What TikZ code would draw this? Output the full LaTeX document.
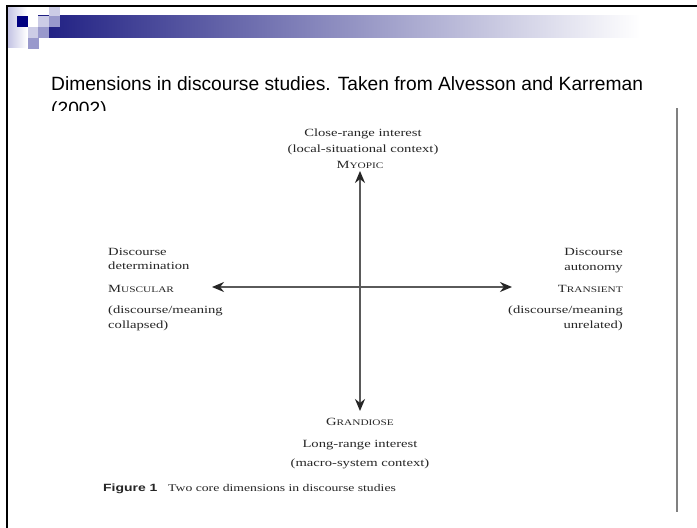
\documentclass[tikz,border=0pt]{standalone}
\usepackage{fontspec}
\setmainfont{Liberation Serif}
\newfontfamily\titlefont{Liberation Sans}
\newfontfamily\figfont[FakeStretch=1.33]{Liberation Serif}
\newfontfamily\figsans[FakeStretch=1.33]{Liberation Sans}
\usetikzlibrary{arrows.meta}
\definecolor{navy}{HTML}{1E1E82}
\definecolor{sqdark}{HTML}{000080}
\definecolor{sqlight}{HTML}{CCCCE6}
\definecolor{sqmid}{HTML}{9999CC}
\definecolor{lav}{HTML}{C4C4E4}
\definecolor{figtext}{HTML}{262626}
\definecolor{axisgray}{HTML}{5A5A5A}
\tikzset{
  sq/.style={minimum size=11pt, inner sep=0pt, outer sep=0pt, anchor=north west, draw=none},
  title/.style={font=\titlefont\fontsize{19.2}{22}\selectfont, inner sep=0pt, anchor=base west},
  ftext/.style={font=\figfont\fontsize{11}{13}\selectfont, text=figtext, inner sep=0pt},
  fcap/.style={font=\figfont\fontsize{10.3}{12}\selectfont, text=figtext, inner sep=0pt, anchor=base west},
  axis/.style={draw=axisgray, line width=1.5pt,
    {Stealth[length=12pt,width=10pt,color=black!85]}-{Stealth[length=12pt,width=10pt,color=black!85]}},
}
\newcommand{\smc}[2]{#1{\fontsize{8.5}{10}\selectfont #2}}
\begin{document}
\begin{tikzpicture}[x=1pt,y=-1pt]
\useasboundingbox (0,0) rectangle (697,528);
\fill[white] (0,0) rectangle (697,528);
% header decoration
\shade[left color=navy, right color=white] (38,15) rectangle (640,37);
\shade[left color=lav, right color=white] (8,6) rectangle (27,47);
\node[sq, fill=sqdark]  (s1) at (17,16) {};
\node[sq, fill=sqlight] (s2) at (49,5) {};
\node[sq, fill=sqlight] (s3) at (38,16) {};
\node[sq, fill=sqlight] (s4) at (28,27) {};
\node[sq, fill=sqmid]   (s5) at (49,16) {};
\node[sq, fill=sqmid]   (s6) at (38,27) {};
\node[sq, fill=sqmid]   (s7) at (28,38) {};
% slide borders
\draw[line width=2pt] (7,5.5) -- (7,528);
\draw[line width=2pt] (6,5.5) -- (697,5.5);
% title
\node[title] (t1) at (51,90) {Dimensions in discourse studies. Taken from Alvesson and Karreman};
\begin{scope}
\clip (0,0) rectangle (697,110.5);
\node[title] (t2) at (51,115) {(2002)};
\end{scope}
% scanned page edge
\draw[line width=1.3pt, color=gray] (677,108) -- (677,512);
% axes
\coordinate (L) at (212,287);
\coordinate (R) at (512,287);
\coordinate (T) at (360,171);
\coordinate (B) at (360,411);
\draw[axis] (L) -- (R);
\draw[axis] (T) -- (B);
% top labels
\node[ftext, anchor=base] (u1) at (363,136) {Close-range interest};
\node[ftext, anchor=base] (u2) at (363,152) {(local-situational context)};
\node[ftext, anchor=base] (u3) at (360,168) {\smc{M}{YOPIC}};
% left labels
\node[ftext, anchor=base west] (l1) at (108,255) {Discourse};
\node[ftext, anchor=base west] (l2) at (108,269) {determination};
\node[ftext, anchor=base west] (l3) at (108,292) {\smc{M}{USCULAR}};
\node[ftext, anchor=base west] (l4) at (108,313) {(discourse/meaning};
\node[ftext, anchor=base west] (l5) at (108,328) {collapsed)};
% right labels
\node[ftext, anchor=base east] (r1) at (623,255) {Discourse};
\node[ftext, anchor=base east] (r2) at (623,270) {autonomy};
\node[ftext, anchor=base east] (r3) at (623,292) {\smc{T}{RANSIENT}};
\node[ftext, anchor=base east] (r4) at (623,313) {(discourse/meaning};
\node[ftext, anchor=base east] (r5) at (623,328) {unrelated)};
% bottom labels
\node[ftext, anchor=base] (b1) at (360,425) {\smc{G}{RANDIOSE}};
\node[ftext, anchor=base] (b2) at (360,447) {Long-range interest};
\node[ftext, anchor=base] (b3) at (360,466) {(macro-system context)};
% caption
\node[fcap, font=\figsans\bfseries\fontsize{10.5}{12}\selectfont] (c1) at (103,491) {Figure 1};
\node[fcap] (c2) at (168,491) {Two core dimensions in discourse studies};
\end{tikzpicture}
\end{document}
